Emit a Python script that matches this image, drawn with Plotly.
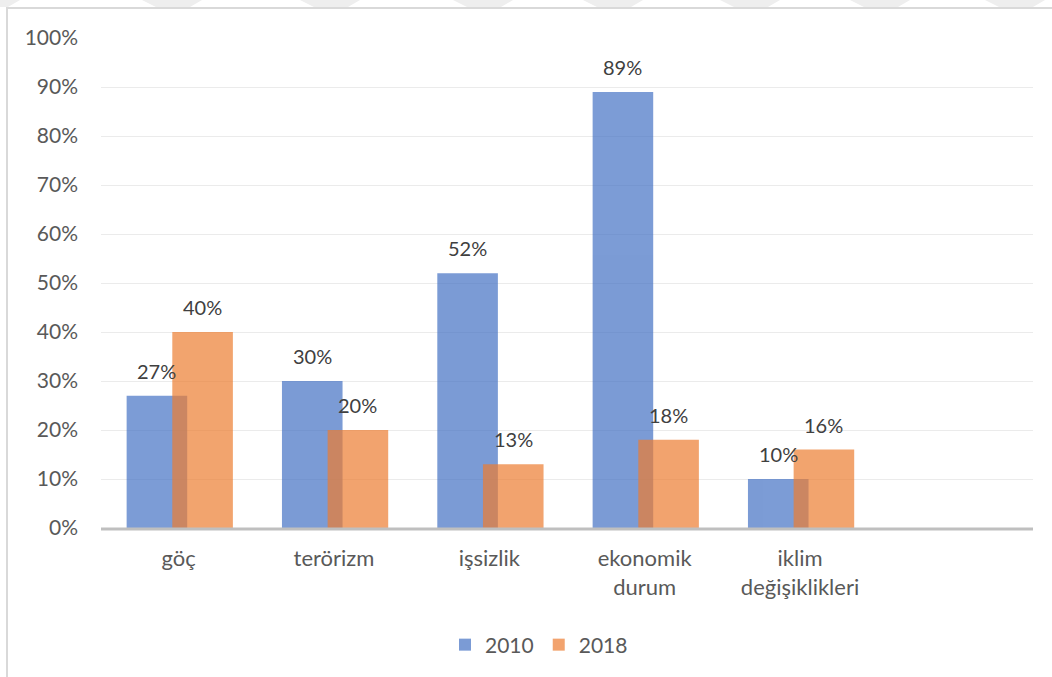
import plotly.graph_objects as go

categories = ["göç", "terörizm", "işsizlik", "ekonomik<br>durum", "iklim<br>değişiklikleri"]
values_2010 = [27, 30, 52, 89, 10]
values_2018 = [40, 20, 13, 18, 16]
series_names = ["2010", "2018"]
y_ticks = [0, 10, 20, 30, 40, 50, 60, 70, 80, 90, 100]

W, H = 1052, 677
L, R, T, B = 101, 19, 38, 149
pw, ph = W - L - R, H - T - B

def px_x(p):
    return (p - L) / pw

def px_y(p):
    return (H - B - p) / ph

FONT = "Lato"
BAR_W = 0.39
OFF_A = -0.335
OFF_B = -0.041
xs = list(range(len(categories)))

fig = go.Figure()
fig.add_trace(go.Bar(
    x=xs, y=values_2010, name=series_names[0],
    width=BAR_W, offset=OFF_A,
    marker=dict(color="#4472C4", line=dict(width=0)), opacity=0.7,
))
fig.add_trace(go.Bar(
    x=xs, y=values_2018, name=series_names[1],
    width=BAR_W, offset=OFF_B,
    marker=dict(color="#ED7D31", line=dict(width=0)), opacity=0.7,
))

annotations = []
for vals, off in ((values_2010, OFF_A), (values_2018, OFF_B)):
    for i, v in enumerate(vals):
        annotations.append(dict(
            x=i + off + BAR_W / 2, y=v, xref="x", yref="y",
            text=f"{v}%", showarrow=False, yanchor="middle", yshift=25,
            font=dict(family=FONT, size=20, color="#404040"),
        ))

shapes = []
# outer chart border (top/left visible)
shapes.append(dict(type="rect", xref="paper", yref="paper",
                   x0=px_x(7), x1=px_x(1070), y0=px_y(8), y1=px_y(700),
                   line=dict(color="#D9D9D9", width=2), fillcolor="rgba(0,0,0,0)", layer="below"))
# faint watermark stripes at the top
for x0 in [-40, 142, 300, 453, 583, 720, 850, 985]:
    shapes.append(dict(type="path", xref="paper", yref="paper",
                       path=f"M {px_x(x0)},{px_y(0)} L {px_x(x0+60)},{px_y(0)} L {px_x(x0+48)},{px_y(7)} L {px_x(x0+14)},{px_y(7)} Z",
                       fillcolor="#EEEEEE", line=dict(width=0), layer="below"))
# baseline axis line
shapes.append(dict(type="line", xref="paper", yref="paper", x0=0, x1=1, y0=-0.002, y1=-0.002,
                   line=dict(color="#BFBFBF", width=3), layer="above"))

fig.update_layout(
    width=W, height=H,
    margin=dict(l=L, r=R, t=T, b=B, autoexpand=False),
    paper_bgcolor="white", plot_bgcolor="white",
    barmode="overlay",
    showlegend=True,
    legend=dict(orientation="h", x=px_x(539), xanchor="center", y=px_y(645), yanchor="middle",
                font=dict(family=FONT, size=21, color="#595959"), itemwidth=30,
                traceorder="normal"),
    annotations=annotations,
    shapes=shapes,
    xaxis=dict(
        range=[-0.5, 5.5], tickmode="array", tickvals=xs, ticktext=categories,
        showgrid=False, zeroline=False, showline=False, ticks="",
        tickfont=dict(family=FONT, size=22, color="#595959"),
        ticklabelstandoff=15,
    ),
    yaxis=dict(
        range=[0, 100], tickmode="array", tickvals=y_ticks,
        ticktext=[f"{t}%" for t in y_ticks],
        showgrid=True, gridcolor="#EBEBEB", gridwidth=1,
        zeroline=False, showline=False, ticks="",
        tickfont=dict(family=FONT, size=21, color="#595959"),
        ticklabelstandoff=22,
    ),
    font=dict(family=FONT),
)

fig.write_html("out.html", config={"displayModeBar": False},
               post_script="document.body.style.margin='0';document.body.style.overflow='hidden';")
